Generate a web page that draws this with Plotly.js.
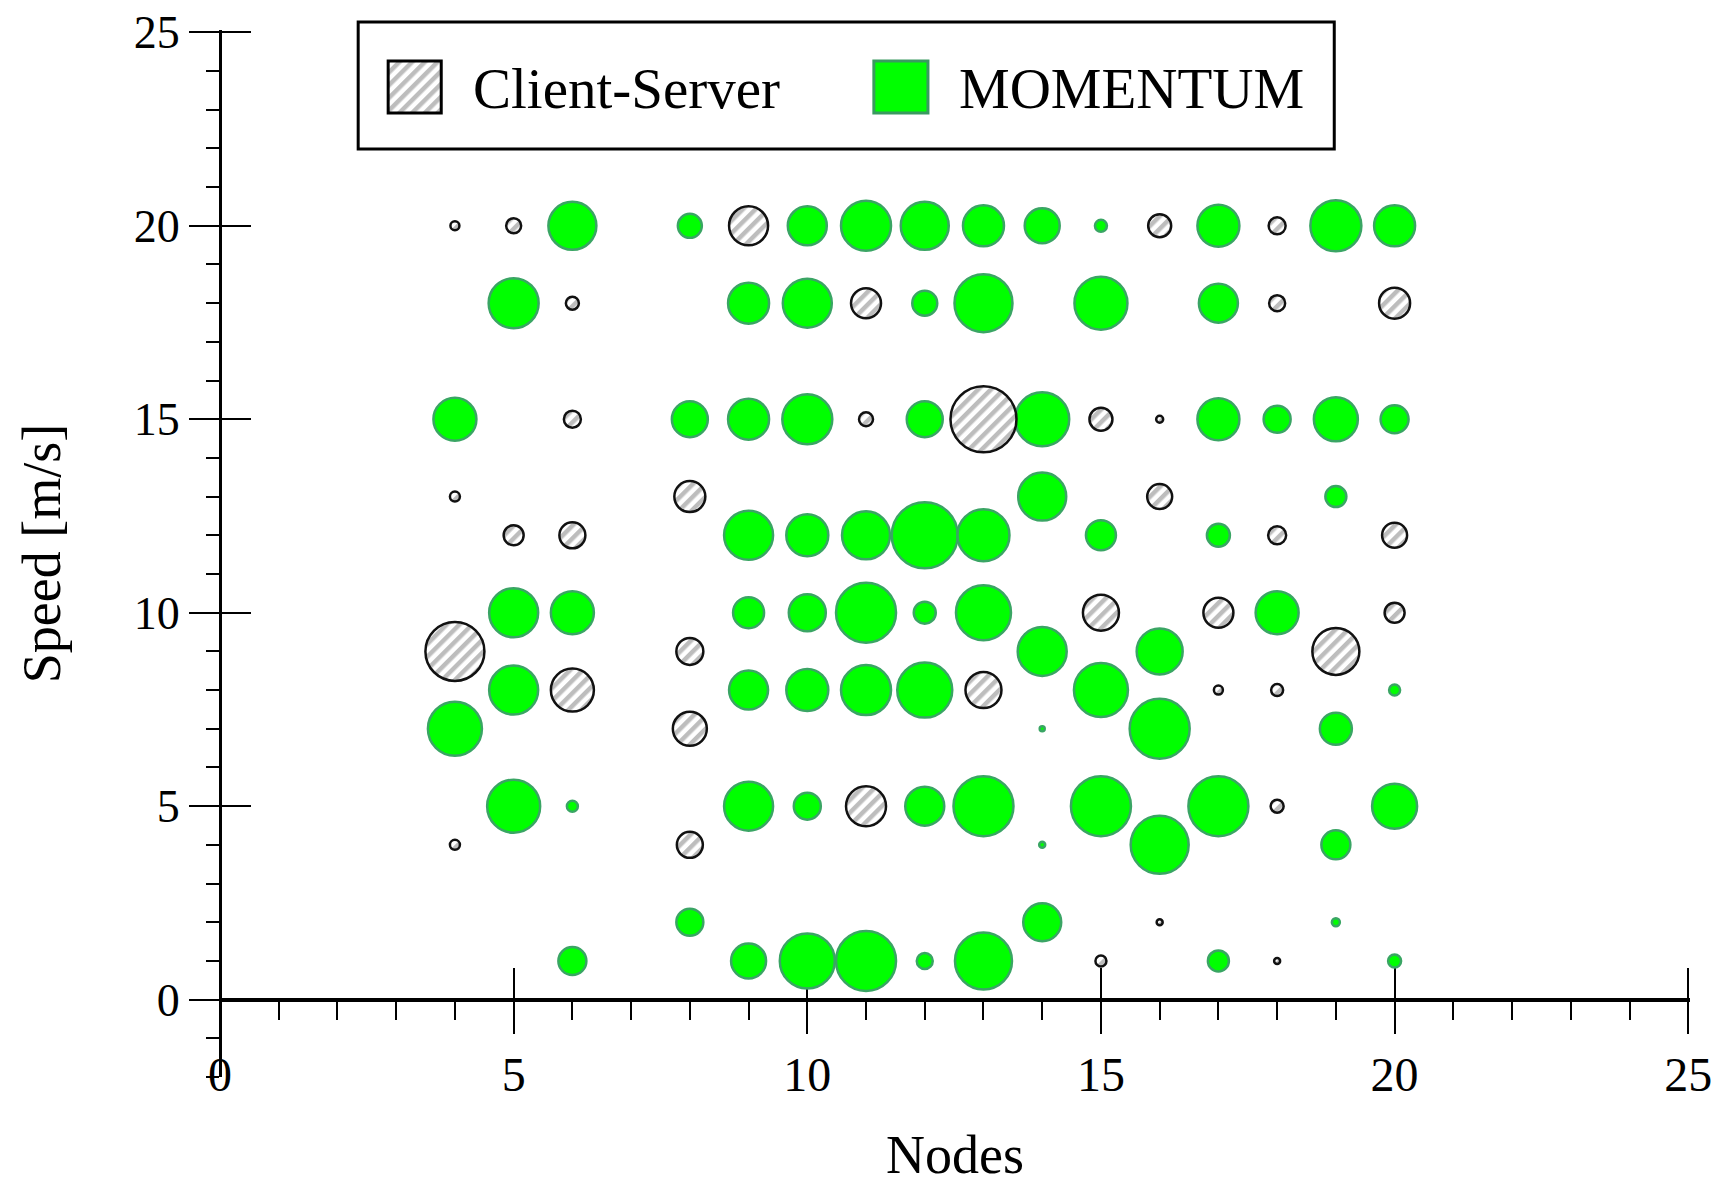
<!DOCTYPE html>
<html><head><meta charset="utf-8">
<script src="https://cdn.plot.ly/plotly-3.0.1.min.js"></script>
<style>html,body{margin:0;padding:0;background:#fff}#chart{width:1727px;height:1185px}</style>
</head><body>
<svg width="0" height="0" style="position:absolute">
<defs><pattern id="hatch" patternUnits="userSpaceOnUse" width="9" height="9" patternTransform="rotate(45)">
<rect x="0" y="0" width="9" height="9" fill="#ffffff"/><rect x="0" y="0" width="4.5" height="9" fill="#bdbdbd"/></pattern></defs></svg>
<div id="chart"></div>
<script>
// Client-Server bubbles
const csNodes = [4,5,9,16,18, 6,11,18,20, 6,11,13,15,16, 4,8,16, 5,6,18,20, 15,17,20, 4,8,19, 6,13,17,18, 8, 11,18, 4,8, 16, 15,18];
const csSpeed = [20,20,20,20,20, 18,18,18,18, 15,15,15,15,15, 13,13,13, 12,12,12,12, 10,10,10, 9,9,9, 8,8,8,8, 7, 5,5, 4,4, 2, 1,1];
const csSize  = [9,15,39,23,17, 13,30,16,31, 17,14,66,23,7, 10,31,25, 20,26,18,25, 36,30,20, 59,27,47, 43,36,9,12, 34, 40,13, 10,26, 6, 11,6];

// MOMENTUM bubbles
const momNodes = [6,8,10,11,12,13,14,15,17,19,20,
                  5,9,10,12,13,15,17,
                  4,8,9,10,12,14,17,18,19,20,
                  14,19,
                  9,10,11,12,13,15,17,
                  5,6,9,10,11,12,13,18,
                  14,16,
                  5,9,10,11,12,15,20,
                  4,14,16,19,
                  5,6,9,10,12,13,15,17,20,
                  14,16,19,
                  8,14,19,
                  6,9,10,11,12,13,17,20];
const momSpeed = [20,20,20,20,20,20,20,20,20,20,20,
                  18,18,18,18,18,18,18,
                  15,15,15,15,15,15,15,15,15,15,
                  13,13,
                  12,12,12,12,12,12,12,
                  10,10,10,10,10,10,10,10,
                  9,9,
                  8,8,8,8,8,8,8,
                  7,7,7,7,
                  5,5,5,5,5,5,5,5,5,
                  4,4,4,
                  2,2,2,
                  1,1,1,1,1,1,1,1];
const momSize  = [48,24,39,50,48,41,35,12,42,51,41,
                  50,41,49,25,58,53,39,
                  43,36,41,50,36,54,42,27,44,28,
                  48,21,
                  49,42,48,66,52,30,23,
                  49,43,31,37,60,22,55,43,
                  49,46,
                  49,39,42,50,55,54,11,
                  54,5,60,32,
                  53,11,49,27,39,60,60,60,45,
                  6,58,29,
                  27,38,8,
                  28,35,55,60,16,57,21,13];

const FONT = 'Liberation Serif, Times New Roman, serif';
const XR = [0, 25.03];
const YR = [-2, 25.06];
const Y0 = (0 - YR[0]) / (YR[1] - YR[0]); // paper fraction of y=0

const traces = [
  {type:'scatter', mode:'markers', name:'MOMENTUM', x:momNodes, y:momSpeed, xaxis:'x', yaxis:'y',
   marker:{size:momSize, sizemode:'diameter', sizeref:1, color:'#00ff00', opacity:1,
           line:{color:'#3aa564', width:2.5}}, hoverinfo:'x+y'},
  {type:'scatter', mode:'markers', name:'Client-Server', x:csNodes, y:csSpeed, xaxis:'x2', yaxis:'y2',
   marker:{size:csSize, sizemode:'diameter', sizeref:1, color:'#d6d6d6', opacity:1,
           line:{color:'#111111', width:2.5}}, hoverinfo:'x+y'}
];

const layout = {
  width:1727, height:1185,
  paper_bgcolor:'#fff', plot_bgcolor:'rgba(0,0,0,0)',
  margin:{l:220, r:37, t:30, b:108},
  showlegend:false,
  font:{family:FONT, color:'#000'},
  xaxis:{range:XR, anchor:'free', position:Y0, tick0:0, dtick:5,
         ticks:'outside', ticklen:32, tickwidth:2, tickcolor:'#000',
         showline:true, linewidth:4, linecolor:'#000', showgrid:false, zeroline:false,
         minor:{dtick:1, tick0:0, ticks:'outside', ticklen:18, tickwidth:2, tickcolor:'#000', showgrid:false},
         tickfont:{family:FONT, size:48, color:'#000'}, ticklabeloverflow:'allow',
         title:{text:'Nodes', font:{family:FONT, size:54, color:'#000'}, standoff:44},
         automargin:false, fixedrange:true},
  yaxis:{range:YR, anchor:'free', position:0, tick0:0, dtick:5,
         ticks:'outside', ticklen:30, tickwidth:2, tickcolor:'#000',
         showline:true, linewidth:3, linecolor:'#000', showgrid:false, zeroline:false,
         minor:{dtick:1, tick0:0, ticks:'outside', ticklen:13, tickwidth:2, tickcolor:'#000', showgrid:false},
         tickfont:{family:FONT, size:46, color:'#000'}, ticklabeloverflow:'allow',
         title:{text:'Speed [m/s]', font:{family:FONT, size:54, color:'#000'}, standoff:54},
         automargin:false, fixedrange:true},
  xaxis2:{range:XR, overlaying:'x', anchor:'free', position:Y0, tick0:0, dtick:5,
          ticks:'inside', ticklen:32, tickwidth:2, tickcolor:'#000', layer:'below traces',
          showticklabels:false, showline:false, showgrid:false, zeroline:false, fixedrange:true},
  yaxis2:{range:YR, overlaying:'y', anchor:'free', position:0, side:'left', tick0:0, dtick:5,
          ticks:'inside', ticklen:30, tickwidth:2, tickcolor:'#000', layer:'below traces',
          showticklabels:false, showline:false, showgrid:false, zeroline:false, fixedrange:true},
  shapes:[
    {type:'rect', xref:'paper', yref:'paper', x0:0.094, x1:0.758, y0:0.8863, y1:1.0076,
     line:{color:'#000', width:3}, fillcolor:'rgba(0,0,0,0)', layer:'above'},
    {type:'rect', xref:'paper', yref:'paper', x0:0.1144, x1:0.1505, y0:0.9207, y1:0.9704,
     line:{color:'#000', width:3}, fillcolor:'#d6d6d6', layer:'above'},
    {type:'rect', xref:'paper', yref:'paper', x0:0.4448, x1:0.4816, y0:0.9207, y1:0.9704,
     line:{color:'#3a9a60', width:3}, fillcolor:'#00ff00', layer:'above'}
  ],
  annotations:[
    {text:'Client-Server', xref:'paper', yref:'paper', x:0.171, y:0.9446, xanchor:'left', yanchor:'middle',
     showarrow:false, font:{family:FONT, size:57, color:'#000'}},
    {text:'MOMENTUM', xref:'paper', yref:'paper', x:0.5014, y:0.9446, xanchor:'left', yanchor:'middle',
     showarrow:false, font:{family:FONT, size:57, color:'#000'}}
  ]
};

function applyHatch(){
  const gd = document.getElementById('chart');
  gd.querySelectorAll('g.trace.scatter').forEach(function(g){
    const d = g.__data__;
    if (d && d[0] && d[0].trace && d[0].trace.name === 'Client-Server') {
      g.querySelectorAll('path.point').forEach(function(p){ p.style.fill = 'url(#hatch)'; });
    }
  });
  gd.querySelectorAll('.shapelayer path[data-index="1"]').forEach(function(p){ p.style.fill = 'url(#hatch)'; });
}

Plotly.newPlot('chart', traces, layout, {staticPlot:true, displayModeBar:false}).then(function(gd){
  applyHatch();
  gd.on('plotly_afterplot', applyHatch);
});
</script>
</body></html>
